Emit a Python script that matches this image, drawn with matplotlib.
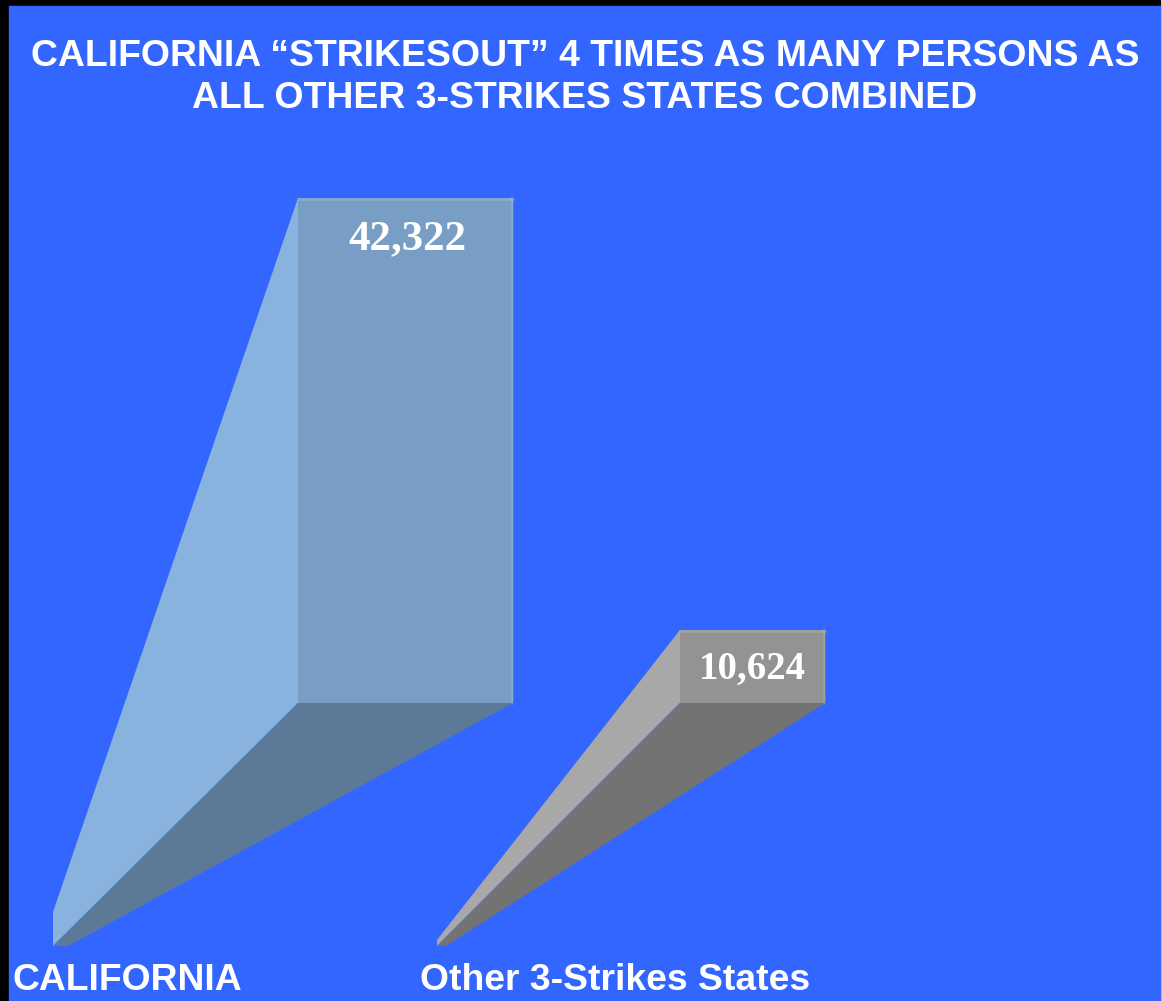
import matplotlib
matplotlib.use("Agg")
from matplotlib import pyplot as plt
from matplotlib.patches import Polygon, Rectangle

# data
categories = ["CALIFORNIA", "Other 3-Strikes States"]
values = [42322, 10624]
value_labels = ["42,322", "10,624"]
title_lines = ["CALIFORNIA \u201cSTRIKESOUT\u201d 4 TIMES AS MANY PERSONS AS",
               "ALL OTHER 3-STRIKES STATES COMBINED"]

# styling / layout (pictorial perspective bars, pixel-like coordinates)
bg = "#3366ff"
front_cols = ["#789ec6", "#939393"]
side_cols = ["#88b3df", "#a8a8a8"]
bottom_cols = ["#5c7a98", "#737373"]
front_x = [298, 680]          # left edge of front face
front_w = [215, 145]          # width of front face
depth = [1.0, 0.576]          # perspective scale of each bar
tip_x = [53, 437]             # vanishing tip at floor
tip_w = [15, 9]
tip_h = [34, 6]
base_y = 703
floor_y = 946
px_per_unit = 505 / 42322

fig = plt.figure(figsize=(11.62, 10.01), dpi=100, facecolor="white")
ax = fig.add_axes([0, 0, 1, 1])
ax.set_xlim(0, 1162)
ax.set_ylim(1001, 0)
ax.axis("off")

ax.add_patch(Rectangle((0, 0), 1160, 1001, color="black", zorder=0))
ax.add_patch(Rectangle((9, 6), 1151, 1001, color=bg, zorder=1))

for i, v in enumerate(values):
    top = base_y - v * px_per_unit * depth[i]
    x0 = front_x[i]
    x1 = x0 + front_w[i]
    # left side face
    ax.add_patch(Polygon([(x0, top), (x0, base_y), (tip_x[i], floor_y),
                          (tip_x[i], floor_y - tip_h[i])],
                         closed=True, color=side_cols[i], lw=0, zorder=2))
    # bottom face
    ax.add_patch(Polygon([(x0, base_y), (x1, base_y), (tip_x[i] + tip_w[i], floor_y),
                          (tip_x[i], floor_y)],
                         closed=True, color=bottom_cols[i], lw=0, zorder=2))
    # front face
    ax.add_patch(Rectangle((x0, top), front_w[i], base_y - top,
                           facecolor=front_cols[i], edgecolor="none", zorder=3))
    ax.plot([x0, x1], [top + 1, top + 1], color="white", alpha=0.12, lw=2, zorder=4)
    ax.plot([x1 - 1, x1 - 1], [top, base_y], color="white", alpha=0.12, lw=2, zorder=4)
    ax.text(x0 + front_w[i] / 2 + 2 - 2 * i, top + 41 - 2 * i, value_labels[i],
            ha="center", va="center", color="white", fontsize=31 - 3 * i,
            fontweight="bold", family="Liberation Serif", zorder=5)

ax.text(585, 57, title_lines[0], ha="center", va="center", color="white",
        fontsize=26.9, fontweight="bold", family="Liberation Sans", zorder=5)
ax.text(585, 99, title_lines[1], ha="center", va="center", color="white",
        fontsize=26.9, fontweight="bold", family="Liberation Sans", zorder=5)

label_x = [12, 420]
for i, c in enumerate(categories):
    ax.text(label_x[i], 981, c, ha="left", va="center", color="white",
            fontsize=26.8, fontweight="bold", family="Liberation Sans", zorder=5)

fig.savefig("out.png", dpi=100, facecolor=fig.get_facecolor())
